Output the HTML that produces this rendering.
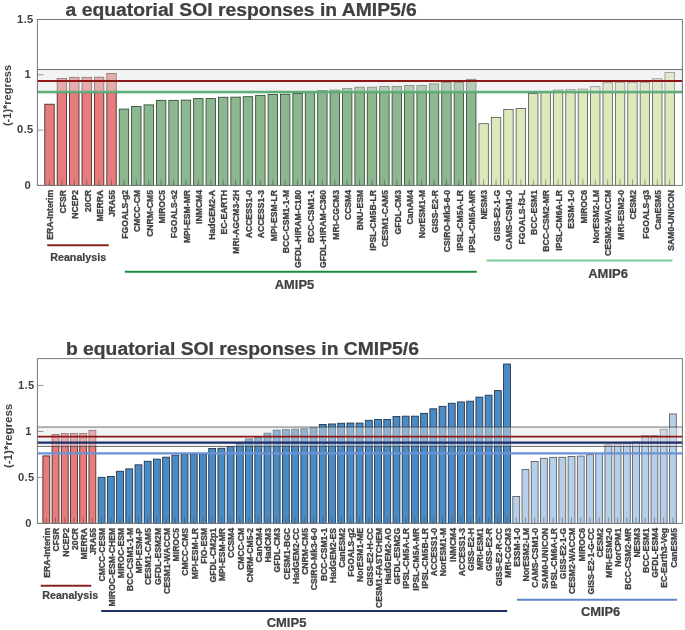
<!DOCTYPE html>
<html><head><meta charset="utf-8"><title>equatorial SOI responses</title>
<style>
html,body{margin:0;padding:0;background:#fff;}
body{width:685px;height:630px;overflow:hidden;font-family:"Liberation Sans",sans-serif;}
svg{display:block;will-change:transform;}
</style></head><body>
<svg width="685" height="630" viewBox="0 0 685 630">
<rect width="685" height="630" fill="#ffffff"/>
<rect x="44.79" y="104.22" width="9.42" height="81.18" fill="#E87C7C" stroke="#3f2626" stroke-width="0.85"/>
<rect x="57.20" y="78.56" width="9.42" height="106.84" fill="#E87C7C" stroke="#3f2626" stroke-width="0.85"/>
<rect x="69.60" y="77.34" width="9.42" height="108.06" fill="#E87C7C" stroke="#3f2626" stroke-width="0.85"/>
<rect x="82.00" y="77.34" width="9.42" height="108.06" fill="#E87C7C" stroke="#3f2626" stroke-width="0.85"/>
<rect x="94.41" y="77.23" width="9.42" height="108.17" fill="#E87C7C" stroke="#3f2626" stroke-width="0.85"/>
<rect x="106.81" y="73.47" width="9.42" height="111.93" fill="#E87C7C" stroke="#3f2626" stroke-width="0.85"/>
<rect x="119.22" y="109.09" width="9.42" height="76.31" fill="#8CB78F" stroke="#2f4a33" stroke-width="0.85"/>
<rect x="131.62" y="106.43" width="9.42" height="78.97" fill="#8CB78F" stroke="#2f4a33" stroke-width="0.85"/>
<rect x="144.02" y="104.88" width="9.42" height="80.52" fill="#8CB78F" stroke="#2f4a33" stroke-width="0.85"/>
<rect x="156.43" y="100.35" width="9.42" height="85.05" fill="#8CB78F" stroke="#2f4a33" stroke-width="0.85"/>
<rect x="168.83" y="100.35" width="9.42" height="85.05" fill="#8CB78F" stroke="#2f4a33" stroke-width="0.85"/>
<rect x="181.23" y="100.13" width="9.42" height="85.27" fill="#8CB78F" stroke="#2f4a33" stroke-width="0.85"/>
<rect x="193.64" y="98.58" width="9.42" height="86.82" fill="#8CB78F" stroke="#2f4a33" stroke-width="0.85"/>
<rect x="206.04" y="98.58" width="9.42" height="86.82" fill="#8CB78F" stroke="#2f4a33" stroke-width="0.85"/>
<rect x="218.45" y="97.25" width="9.42" height="88.15" fill="#8CB78F" stroke="#2f4a33" stroke-width="0.85"/>
<rect x="230.85" y="97.14" width="9.42" height="88.26" fill="#8CB78F" stroke="#2f4a33" stroke-width="0.85"/>
<rect x="243.25" y="96.70" width="9.42" height="88.70" fill="#8CB78F" stroke="#2f4a33" stroke-width="0.85"/>
<rect x="255.66" y="95.37" width="9.42" height="90.03" fill="#8CB78F" stroke="#2f4a33" stroke-width="0.85"/>
<rect x="268.06" y="94.49" width="9.42" height="90.91" fill="#8CB78F" stroke="#2f4a33" stroke-width="0.85"/>
<rect x="280.47" y="94.27" width="9.42" height="91.13" fill="#8CB78F" stroke="#2f4a33" stroke-width="0.85"/>
<rect x="292.87" y="93.49" width="9.42" height="91.91" fill="#8CB78F" stroke="#2f4a33" stroke-width="0.85"/>
<rect x="305.27" y="92.50" width="9.42" height="92.90" fill="#8CB78F" stroke="#2f4a33" stroke-width="0.85"/>
<rect x="317.68" y="90.51" width="9.42" height="94.89" fill="#8CB78F" stroke="#2f4a33" stroke-width="0.85"/>
<rect x="330.08" y="90.06" width="9.42" height="95.34" fill="#8CB78F" stroke="#2f4a33" stroke-width="0.85"/>
<rect x="342.48" y="88.62" width="9.42" height="96.78" fill="#8CB78F" stroke="#2f4a33" stroke-width="0.85"/>
<rect x="354.89" y="87.19" width="9.42" height="98.21" fill="#8CB78F" stroke="#2f4a33" stroke-width="0.85"/>
<rect x="367.29" y="87.19" width="9.42" height="98.21" fill="#8CB78F" stroke="#2f4a33" stroke-width="0.85"/>
<rect x="379.70" y="86.52" width="9.42" height="98.88" fill="#8CB78F" stroke="#2f4a33" stroke-width="0.85"/>
<rect x="392.10" y="86.52" width="9.42" height="98.88" fill="#8CB78F" stroke="#2f4a33" stroke-width="0.85"/>
<rect x="404.50" y="85.53" width="9.42" height="99.87" fill="#8CB78F" stroke="#2f4a33" stroke-width="0.85"/>
<rect x="416.91" y="85.53" width="9.42" height="99.87" fill="#8CB78F" stroke="#2f4a33" stroke-width="0.85"/>
<rect x="429.31" y="83.87" width="9.42" height="101.53" fill="#8CB78F" stroke="#2f4a33" stroke-width="0.85"/>
<rect x="441.72" y="82.54" width="9.42" height="102.86" fill="#8CB78F" stroke="#2f4a33" stroke-width="0.85"/>
<rect x="454.12" y="82.54" width="9.42" height="102.86" fill="#8CB78F" stroke="#2f4a33" stroke-width="0.85"/>
<rect x="466.52" y="79.33" width="9.42" height="106.07" fill="#8CB78F" stroke="#2f4a33" stroke-width="0.85"/>
<rect x="478.93" y="123.69" width="9.42" height="61.71" fill="#DCEABB" stroke="#5a5a5a" stroke-width="0.85"/>
<rect x="491.33" y="117.38" width="9.42" height="68.02" fill="#DCEABB" stroke="#5a5a5a" stroke-width="0.85"/>
<rect x="503.73" y="109.42" width="9.42" height="75.98" fill="#DCEABB" stroke="#5a5a5a" stroke-width="0.85"/>
<rect x="516.14" y="108.53" width="9.42" height="76.87" fill="#DCEABB" stroke="#5a5a5a" stroke-width="0.85"/>
<rect x="528.54" y="93.49" width="9.42" height="91.91" fill="#DCEABB" stroke="#5a5a5a" stroke-width="0.85"/>
<rect x="540.95" y="92.50" width="9.42" height="92.90" fill="#DCEABB" stroke="#5a5a5a" stroke-width="0.85"/>
<rect x="553.35" y="90.06" width="9.42" height="95.34" fill="#DCEABB" stroke="#5a5a5a" stroke-width="0.85"/>
<rect x="565.75" y="89.73" width="9.42" height="95.67" fill="#DCEABB" stroke="#5a5a5a" stroke-width="0.85"/>
<rect x="578.16" y="89.18" width="9.42" height="96.22" fill="#DCEABB" stroke="#5a5a5a" stroke-width="0.85"/>
<rect x="590.56" y="86.63" width="9.42" height="98.77" fill="#DCEABB" stroke="#5a5a5a" stroke-width="0.85"/>
<rect x="602.97" y="82.65" width="9.42" height="102.75" fill="#DCEABB" stroke="#5a5a5a" stroke-width="0.85"/>
<rect x="615.37" y="82.32" width="9.42" height="103.08" fill="#DCEABB" stroke="#5a5a5a" stroke-width="0.85"/>
<rect x="627.77" y="82.32" width="9.42" height="103.08" fill="#DCEABB" stroke="#5a5a5a" stroke-width="0.85"/>
<rect x="640.18" y="82.32" width="9.42" height="103.08" fill="#DCEABB" stroke="#5a5a5a" stroke-width="0.85"/>
<rect x="652.58" y="78.78" width="9.42" height="106.62" fill="#DCEABB" stroke="#5a5a5a" stroke-width="0.85"/>
<rect x="664.98" y="72.48" width="9.42" height="112.92" fill="#DCEABB" stroke="#5a5a5a" stroke-width="0.85"/>
<rect x="37.4" y="69.49" width="645.0" height="23.23" fill="#e4e4e4" fill-opacity="0.45" stroke="#3a3a3a" stroke-width="0.7"/>
<line x1="37.4" x2="682.4" y1="80.99" y2="80.99" stroke="#8B1717" stroke-width="2.0"/>
<line x1="37.4" x2="682.4" y1="91.94" y2="91.94" stroke="#5DAE79" stroke-width="2.4"/>
<rect x="37.4" y="19.5" width="645.0" height="165.9" fill="none" stroke="#7a7a7a" stroke-width="1"/>
<line x1="49.50" x2="49.50" y1="185.4" y2="179.4" stroke="#444" stroke-opacity="0.6" stroke-width="0.8"/>
<line x1="61.91" x2="61.91" y1="185.4" y2="179.4" stroke="#444" stroke-opacity="0.6" stroke-width="0.8"/>
<line x1="74.31" x2="74.31" y1="185.4" y2="179.4" stroke="#444" stroke-opacity="0.6" stroke-width="0.8"/>
<line x1="86.72" x2="86.72" y1="185.4" y2="179.4" stroke="#444" stroke-opacity="0.6" stroke-width="0.8"/>
<line x1="99.12" x2="99.12" y1="185.4" y2="179.4" stroke="#444" stroke-opacity="0.6" stroke-width="0.8"/>
<line x1="111.52" x2="111.52" y1="185.4" y2="179.4" stroke="#444" stroke-opacity="0.6" stroke-width="0.8"/>
<line x1="123.93" x2="123.93" y1="185.4" y2="179.4" stroke="#444" stroke-opacity="0.6" stroke-width="0.8"/>
<line x1="136.33" x2="136.33" y1="185.4" y2="179.4" stroke="#444" stroke-opacity="0.6" stroke-width="0.8"/>
<line x1="148.73" x2="148.73" y1="185.4" y2="179.4" stroke="#444" stroke-opacity="0.6" stroke-width="0.8"/>
<line x1="161.14" x2="161.14" y1="185.4" y2="179.4" stroke="#444" stroke-opacity="0.6" stroke-width="0.8"/>
<line x1="173.54" x2="173.54" y1="185.4" y2="179.4" stroke="#444" stroke-opacity="0.6" stroke-width="0.8"/>
<line x1="185.95" x2="185.95" y1="185.4" y2="179.4" stroke="#444" stroke-opacity="0.6" stroke-width="0.8"/>
<line x1="198.35" x2="198.35" y1="185.4" y2="179.4" stroke="#444" stroke-opacity="0.6" stroke-width="0.8"/>
<line x1="210.75" x2="210.75" y1="185.4" y2="179.4" stroke="#444" stroke-opacity="0.6" stroke-width="0.8"/>
<line x1="223.16" x2="223.16" y1="185.4" y2="179.4" stroke="#444" stroke-opacity="0.6" stroke-width="0.8"/>
<line x1="235.56" x2="235.56" y1="185.4" y2="179.4" stroke="#444" stroke-opacity="0.6" stroke-width="0.8"/>
<line x1="247.97" x2="247.97" y1="185.4" y2="179.4" stroke="#444" stroke-opacity="0.6" stroke-width="0.8"/>
<line x1="260.37" x2="260.37" y1="185.4" y2="179.4" stroke="#444" stroke-opacity="0.6" stroke-width="0.8"/>
<line x1="272.77" x2="272.77" y1="185.4" y2="179.4" stroke="#444" stroke-opacity="0.6" stroke-width="0.8"/>
<line x1="285.18" x2="285.18" y1="185.4" y2="179.4" stroke="#444" stroke-opacity="0.6" stroke-width="0.8"/>
<line x1="297.58" x2="297.58" y1="185.4" y2="179.4" stroke="#444" stroke-opacity="0.6" stroke-width="0.8"/>
<line x1="309.98" x2="309.98" y1="185.4" y2="179.4" stroke="#444" stroke-opacity="0.6" stroke-width="0.8"/>
<line x1="322.39" x2="322.39" y1="185.4" y2="179.4" stroke="#444" stroke-opacity="0.6" stroke-width="0.8"/>
<line x1="334.79" x2="334.79" y1="185.4" y2="179.4" stroke="#444" stroke-opacity="0.6" stroke-width="0.8"/>
<line x1="347.20" x2="347.20" y1="185.4" y2="179.4" stroke="#444" stroke-opacity="0.6" stroke-width="0.8"/>
<line x1="359.60" x2="359.60" y1="185.4" y2="179.4" stroke="#444" stroke-opacity="0.6" stroke-width="0.8"/>
<line x1="372.00" x2="372.00" y1="185.4" y2="179.4" stroke="#444" stroke-opacity="0.6" stroke-width="0.8"/>
<line x1="384.41" x2="384.41" y1="185.4" y2="179.4" stroke="#444" stroke-opacity="0.6" stroke-width="0.8"/>
<line x1="396.81" x2="396.81" y1="185.4" y2="179.4" stroke="#444" stroke-opacity="0.6" stroke-width="0.8"/>
<line x1="409.22" x2="409.22" y1="185.4" y2="179.4" stroke="#444" stroke-opacity="0.6" stroke-width="0.8"/>
<line x1="421.62" x2="421.62" y1="185.4" y2="179.4" stroke="#444" stroke-opacity="0.6" stroke-width="0.8"/>
<line x1="434.02" x2="434.02" y1="185.4" y2="179.4" stroke="#444" stroke-opacity="0.6" stroke-width="0.8"/>
<line x1="446.43" x2="446.43" y1="185.4" y2="179.4" stroke="#444" stroke-opacity="0.6" stroke-width="0.8"/>
<line x1="458.83" x2="458.83" y1="185.4" y2="179.4" stroke="#444" stroke-opacity="0.6" stroke-width="0.8"/>
<line x1="471.23" x2="471.23" y1="185.4" y2="179.4" stroke="#444" stroke-opacity="0.6" stroke-width="0.8"/>
<line x1="483.64" x2="483.64" y1="185.4" y2="179.4" stroke="#444" stroke-opacity="0.6" stroke-width="0.8"/>
<line x1="496.04" x2="496.04" y1="185.4" y2="179.4" stroke="#444" stroke-opacity="0.6" stroke-width="0.8"/>
<line x1="508.45" x2="508.45" y1="185.4" y2="179.4" stroke="#444" stroke-opacity="0.6" stroke-width="0.8"/>
<line x1="520.85" x2="520.85" y1="185.4" y2="179.4" stroke="#444" stroke-opacity="0.6" stroke-width="0.8"/>
<line x1="533.25" x2="533.25" y1="185.4" y2="179.4" stroke="#444" stroke-opacity="0.6" stroke-width="0.8"/>
<line x1="545.66" x2="545.66" y1="185.4" y2="179.4" stroke="#444" stroke-opacity="0.6" stroke-width="0.8"/>
<line x1="558.06" x2="558.06" y1="185.4" y2="179.4" stroke="#444" stroke-opacity="0.6" stroke-width="0.8"/>
<line x1="570.47" x2="570.47" y1="185.4" y2="179.4" stroke="#444" stroke-opacity="0.6" stroke-width="0.8"/>
<line x1="582.87" x2="582.87" y1="185.4" y2="179.4" stroke="#444" stroke-opacity="0.6" stroke-width="0.8"/>
<line x1="595.27" x2="595.27" y1="185.4" y2="179.4" stroke="#444" stroke-opacity="0.6" stroke-width="0.8"/>
<line x1="607.68" x2="607.68" y1="185.4" y2="179.4" stroke="#444" stroke-opacity="0.6" stroke-width="0.8"/>
<line x1="620.08" x2="620.08" y1="185.4" y2="179.4" stroke="#444" stroke-opacity="0.6" stroke-width="0.8"/>
<line x1="632.48" x2="632.48" y1="185.4" y2="179.4" stroke="#444" stroke-opacity="0.6" stroke-width="0.8"/>
<line x1="644.89" x2="644.89" y1="185.4" y2="179.4" stroke="#444" stroke-opacity="0.6" stroke-width="0.8"/>
<line x1="657.29" x2="657.29" y1="185.4" y2="179.4" stroke="#444" stroke-opacity="0.6" stroke-width="0.8"/>
<line x1="669.70" x2="669.70" y1="185.4" y2="179.4" stroke="#444" stroke-opacity="0.6" stroke-width="0.8"/>
<line x1="37.4" x2="43.4" y1="185.40" y2="185.40" stroke="#7a7a7a" stroke-width="0.8"/>
<text x="31.0" y="188.60" text-anchor="end" font-size="11.2" letter-spacing="0.35" font-weight="bold" fill="#404040" font-family="Liberation Sans, sans-serif">0</text>
<line x1="37.4" x2="43.4" y1="130.10" y2="130.10" stroke="#7a7a7a" stroke-width="0.8"/>
<text x="33.7" y="133.30" text-anchor="end" font-size="11.2" letter-spacing="0.35" font-weight="bold" fill="#404040" font-family="Liberation Sans, sans-serif">0.5</text>
<line x1="37.4" x2="43.4" y1="74.80" y2="74.80" stroke="#7a7a7a" stroke-width="0.8"/>
<text x="31.0" y="78.00" text-anchor="end" font-size="11.2" letter-spacing="0.35" font-weight="bold" fill="#404040" font-family="Liberation Sans, sans-serif">1</text>
<line x1="37.4" x2="43.4" y1="19.50" y2="19.50" stroke="#7a7a7a" stroke-width="0.8"/>
<text x="33.7" y="22.70" text-anchor="end" font-size="11.2" letter-spacing="0.35" font-weight="bold" fill="#404040" font-family="Liberation Sans, sans-serif">1.5</text>
<text transform="translate(53.30,189.90) rotate(-90)" text-anchor="end" font-size="8.65" font-weight="bold" fill="#404040" stroke="#404040" stroke-width="0.3" font-family="Liberation Sans, sans-serif">ERA-Interim</text>
<text transform="translate(65.71,189.90) rotate(-90)" text-anchor="end" font-size="8.65" font-weight="bold" fill="#404040" stroke="#404040" stroke-width="0.3" font-family="Liberation Sans, sans-serif">CFSR</text>
<text transform="translate(78.11,189.90) rotate(-90)" text-anchor="end" font-size="8.65" font-weight="bold" fill="#404040" stroke="#404040" stroke-width="0.3" font-family="Liberation Sans, sans-serif">NCEP2</text>
<text transform="translate(90.52,189.90) rotate(-90)" text-anchor="end" font-size="8.65" font-weight="bold" fill="#404040" stroke="#404040" stroke-width="0.3" font-family="Liberation Sans, sans-serif">20CR</text>
<text transform="translate(102.92,189.90) rotate(-90)" text-anchor="end" font-size="8.65" font-weight="bold" fill="#404040" stroke="#404040" stroke-width="0.3" font-family="Liberation Sans, sans-serif">MERRA</text>
<text transform="translate(115.32,189.90) rotate(-90)" text-anchor="end" font-size="8.65" font-weight="bold" fill="#404040" stroke="#404040" stroke-width="0.3" font-family="Liberation Sans, sans-serif">JRA55</text>
<text transform="translate(127.73,189.90) rotate(-90)" text-anchor="end" font-size="8.65" font-weight="bold" fill="#404040" stroke="#404040" stroke-width="0.3" font-family="Liberation Sans, sans-serif">FGOALS-g2</text>
<text transform="translate(140.13,189.90) rotate(-90)" text-anchor="end" font-size="8.65" font-weight="bold" fill="#404040" stroke="#404040" stroke-width="0.3" font-family="Liberation Sans, sans-serif">CMCC-CM</text>
<text transform="translate(152.53,189.90) rotate(-90)" text-anchor="end" font-size="8.65" font-weight="bold" fill="#404040" stroke="#404040" stroke-width="0.3" font-family="Liberation Sans, sans-serif">CNRM-CM5</text>
<text transform="translate(164.94,189.90) rotate(-90)" text-anchor="end" font-size="8.65" font-weight="bold" fill="#404040" stroke="#404040" stroke-width="0.3" font-family="Liberation Sans, sans-serif">MIROC5</text>
<text transform="translate(177.34,189.90) rotate(-90)" text-anchor="end" font-size="8.65" font-weight="bold" fill="#404040" stroke="#404040" stroke-width="0.3" font-family="Liberation Sans, sans-serif">FGOALS-s2</text>
<text transform="translate(189.75,189.90) rotate(-90)" text-anchor="end" font-size="8.65" font-weight="bold" fill="#404040" stroke="#404040" stroke-width="0.3" font-family="Liberation Sans, sans-serif">MPI-ESM-MR</text>
<text transform="translate(202.15,189.90) rotate(-90)" text-anchor="end" font-size="8.65" font-weight="bold" fill="#404040" stroke="#404040" stroke-width="0.3" font-family="Liberation Sans, sans-serif">INMCM4</text>
<text transform="translate(214.55,189.90) rotate(-90)" text-anchor="end" font-size="8.65" font-weight="bold" fill="#404040" stroke="#404040" stroke-width="0.3" font-family="Liberation Sans, sans-serif">HadGEM2-A</text>
<text transform="translate(226.96,189.90) rotate(-90)" text-anchor="end" font-size="8.65" font-weight="bold" fill="#404040" stroke="#404040" stroke-width="0.3" font-family="Liberation Sans, sans-serif">EC-EARTH</text>
<text transform="translate(239.36,189.90) rotate(-90)" text-anchor="end" font-size="8.65" font-weight="bold" fill="#404040" stroke="#404040" stroke-width="0.3" font-family="Liberation Sans, sans-serif">MRI-AGCM3-2H</text>
<text transform="translate(251.77,189.90) rotate(-90)" text-anchor="end" font-size="8.65" font-weight="bold" fill="#404040" stroke="#404040" stroke-width="0.3" font-family="Liberation Sans, sans-serif">ACCESS1-0</text>
<text transform="translate(264.17,189.90) rotate(-90)" text-anchor="end" font-size="8.65" font-weight="bold" fill="#404040" stroke="#404040" stroke-width="0.3" font-family="Liberation Sans, sans-serif">ACCESS1-3</text>
<text transform="translate(276.57,189.90) rotate(-90)" text-anchor="end" font-size="8.65" font-weight="bold" fill="#404040" stroke="#404040" stroke-width="0.3" font-family="Liberation Sans, sans-serif">MPI-ESM-LR</text>
<text transform="translate(288.98,189.90) rotate(-90)" text-anchor="end" font-size="8.65" font-weight="bold" fill="#404040" stroke="#404040" stroke-width="0.3" font-family="Liberation Sans, sans-serif">BCC-CSM1-1-M</text>
<text transform="translate(301.38,189.90) rotate(-90)" text-anchor="end" font-size="8.65" font-weight="bold" fill="#404040" stroke="#404040" stroke-width="0.3" font-family="Liberation Sans, sans-serif">GFDL-HIRAM-C180</text>
<text transform="translate(313.78,189.90) rotate(-90)" text-anchor="end" font-size="8.65" font-weight="bold" fill="#404040" stroke="#404040" stroke-width="0.3" font-family="Liberation Sans, sans-serif">BCC-CSM1-1</text>
<text transform="translate(326.19,189.90) rotate(-90)" text-anchor="end" font-size="8.65" font-weight="bold" fill="#404040" stroke="#404040" stroke-width="0.3" font-family="Liberation Sans, sans-serif">GFDL-HIRAM-C360</text>
<text transform="translate(338.59,189.90) rotate(-90)" text-anchor="end" font-size="8.65" font-weight="bold" fill="#404040" stroke="#404040" stroke-width="0.3" font-family="Liberation Sans, sans-serif">MRI-CGCM3</text>
<text transform="translate(351.00,189.90) rotate(-90)" text-anchor="end" font-size="8.65" font-weight="bold" fill="#404040" stroke="#404040" stroke-width="0.3" font-family="Liberation Sans, sans-serif">CCSM4</text>
<text transform="translate(363.40,189.90) rotate(-90)" text-anchor="end" font-size="8.65" font-weight="bold" fill="#404040" stroke="#404040" stroke-width="0.3" font-family="Liberation Sans, sans-serif">BNU-ESM</text>
<text transform="translate(375.80,189.90) rotate(-90)" text-anchor="end" font-size="8.65" font-weight="bold" fill="#404040" stroke="#404040" stroke-width="0.3" font-family="Liberation Sans, sans-serif">IPSL-CM5B-LR</text>
<text transform="translate(388.21,189.90) rotate(-90)" text-anchor="end" font-size="8.65" font-weight="bold" fill="#404040" stroke="#404040" stroke-width="0.3" font-family="Liberation Sans, sans-serif">CESM1-CAM5</text>
<text transform="translate(400.61,189.90) rotate(-90)" text-anchor="end" font-size="8.65" font-weight="bold" fill="#404040" stroke="#404040" stroke-width="0.3" font-family="Liberation Sans, sans-serif">GFDL-CM3</text>
<text transform="translate(413.02,189.90) rotate(-90)" text-anchor="end" font-size="8.65" font-weight="bold" fill="#404040" stroke="#404040" stroke-width="0.3" font-family="Liberation Sans, sans-serif">CanAM4</text>
<text transform="translate(425.42,189.90) rotate(-90)" text-anchor="end" font-size="8.65" font-weight="bold" fill="#404040" stroke="#404040" stroke-width="0.3" font-family="Liberation Sans, sans-serif">NorESM1-M</text>
<text transform="translate(437.82,189.90) rotate(-90)" text-anchor="end" font-size="8.65" font-weight="bold" fill="#404040" stroke="#404040" stroke-width="0.3" font-family="Liberation Sans, sans-serif">GISS-E2-R</text>
<text transform="translate(450.23,189.90) rotate(-90)" text-anchor="end" font-size="8.65" font-weight="bold" fill="#404040" stroke="#404040" stroke-width="0.3" font-family="Liberation Sans, sans-serif">CSIRO-Mk3-6-0</text>
<text transform="translate(462.63,189.90) rotate(-90)" text-anchor="end" font-size="8.65" font-weight="bold" fill="#404040" stroke="#404040" stroke-width="0.3" font-family="Liberation Sans, sans-serif">IPSL-CM5A-LR</text>
<text transform="translate(475.03,189.90) rotate(-90)" text-anchor="end" font-size="8.65" font-weight="bold" fill="#404040" stroke="#404040" stroke-width="0.3" font-family="Liberation Sans, sans-serif">IPSL-CM5A-MR</text>
<text transform="translate(487.44,189.90) rotate(-90)" text-anchor="end" font-size="8.65" font-weight="bold" fill="#404040" stroke="#404040" stroke-width="0.3" font-family="Liberation Sans, sans-serif">NESM3</text>
<text transform="translate(499.84,189.90) rotate(-90)" text-anchor="end" font-size="8.65" font-weight="bold" fill="#404040" stroke="#404040" stroke-width="0.3" font-family="Liberation Sans, sans-serif">GISS-E2-1-G</text>
<text transform="translate(512.25,189.90) rotate(-90)" text-anchor="end" font-size="8.65" font-weight="bold" fill="#404040" stroke="#404040" stroke-width="0.3" font-family="Liberation Sans, sans-serif">CAMS-CSM1-0</text>
<text transform="translate(524.65,189.90) rotate(-90)" text-anchor="end" font-size="8.65" font-weight="bold" fill="#404040" stroke="#404040" stroke-width="0.3" font-family="Liberation Sans, sans-serif">FGOALS-f3-L</text>
<text transform="translate(537.05,189.90) rotate(-90)" text-anchor="end" font-size="8.65" font-weight="bold" fill="#404040" stroke="#404040" stroke-width="0.3" font-family="Liberation Sans, sans-serif">BCC-ESM1</text>
<text transform="translate(549.46,189.90) rotate(-90)" text-anchor="end" font-size="8.65" font-weight="bold" fill="#404040" stroke="#404040" stroke-width="0.3" font-family="Liberation Sans, sans-serif">BCC-CSM2-MR</text>
<text transform="translate(561.86,189.90) rotate(-90)" text-anchor="end" font-size="8.65" font-weight="bold" fill="#404040" stroke="#404040" stroke-width="0.3" font-family="Liberation Sans, sans-serif">IPSL-CM6A-LR</text>
<text transform="translate(574.27,189.90) rotate(-90)" text-anchor="end" font-size="8.65" font-weight="bold" fill="#404040" stroke="#404040" stroke-width="0.3" font-family="Liberation Sans, sans-serif">E3SM-1-0</text>
<text transform="translate(586.67,189.90) rotate(-90)" text-anchor="end" font-size="8.65" font-weight="bold" fill="#404040" stroke="#404040" stroke-width="0.3" font-family="Liberation Sans, sans-serif">MIROC6</text>
<text transform="translate(599.07,189.90) rotate(-90)" text-anchor="end" font-size="8.65" font-weight="bold" fill="#404040" stroke="#404040" stroke-width="0.3" font-family="Liberation Sans, sans-serif">NorESM2-LM</text>
<text transform="translate(611.48,189.90) rotate(-90)" text-anchor="end" font-size="8.65" font-weight="bold" fill="#404040" stroke="#404040" stroke-width="0.3" font-family="Liberation Sans, sans-serif">CESM2-WACCM</text>
<text transform="translate(623.88,189.90) rotate(-90)" text-anchor="end" font-size="8.65" font-weight="bold" fill="#404040" stroke="#404040" stroke-width="0.3" font-family="Liberation Sans, sans-serif">MRI-ESM2-0</text>
<text transform="translate(636.28,189.90) rotate(-90)" text-anchor="end" font-size="8.65" font-weight="bold" fill="#404040" stroke="#404040" stroke-width="0.3" font-family="Liberation Sans, sans-serif">CESM2</text>
<text transform="translate(648.69,189.90) rotate(-90)" text-anchor="end" font-size="8.65" font-weight="bold" fill="#404040" stroke="#404040" stroke-width="0.3" font-family="Liberation Sans, sans-serif">FGOALS-g3</text>
<text transform="translate(661.09,189.90) rotate(-90)" text-anchor="end" font-size="8.65" font-weight="bold" fill="#404040" stroke="#404040" stroke-width="0.3" font-family="Liberation Sans, sans-serif">CanESM5</text>
<text transform="translate(673.50,189.90) rotate(-90)" text-anchor="end" font-size="8.65" font-weight="bold" fill="#404040" stroke="#404040" stroke-width="0.3" font-family="Liberation Sans, sans-serif">SAM0-UNICON</text>
<rect x="42.88" y="455.90" width="6.87" height="67.50" fill="#E87C7C" stroke="#3f2626" stroke-width="0.85"/>
<rect x="52.09" y="434.56" width="6.87" height="88.84" fill="#E87C7C" stroke="#3f2626" stroke-width="0.85"/>
<rect x="61.31" y="433.55" width="6.87" height="89.85" fill="#E87C7C" stroke="#3f2626" stroke-width="0.85"/>
<rect x="70.52" y="433.55" width="6.87" height="89.85" fill="#E87C7C" stroke="#3f2626" stroke-width="0.85"/>
<rect x="79.74" y="433.46" width="6.87" height="89.94" fill="#E87C7C" stroke="#3f2626" stroke-width="0.85"/>
<rect x="88.95" y="430.33" width="6.87" height="93.07" fill="#E87C7C" stroke="#3f2626" stroke-width="0.85"/>
<rect x="98.16" y="477.33" width="6.87" height="46.07" fill="#4A8BC4" stroke="#1d2f4a" stroke-width="0.85"/>
<rect x="107.38" y="476.41" width="6.87" height="46.99" fill="#4A8BC4" stroke="#1d2f4a" stroke-width="0.85"/>
<rect x="116.59" y="471.26" width="6.87" height="52.14" fill="#4A8BC4" stroke="#1d2f4a" stroke-width="0.85"/>
<rect x="125.81" y="468.87" width="6.87" height="54.53" fill="#4A8BC4" stroke="#1d2f4a" stroke-width="0.85"/>
<rect x="135.02" y="464.82" width="6.87" height="58.58" fill="#4A8BC4" stroke="#1d2f4a" stroke-width="0.85"/>
<rect x="144.24" y="461.23" width="6.87" height="62.17" fill="#4A8BC4" stroke="#1d2f4a" stroke-width="0.85"/>
<rect x="153.45" y="459.12" width="6.87" height="64.28" fill="#4A8BC4" stroke="#1d2f4a" stroke-width="0.85"/>
<rect x="162.66" y="457.19" width="6.87" height="66.21" fill="#4A8BC4" stroke="#1d2f4a" stroke-width="0.85"/>
<rect x="171.88" y="455.07" width="6.87" height="68.33" fill="#4A8BC4" stroke="#1d2f4a" stroke-width="0.85"/>
<rect x="181.09" y="454.15" width="6.87" height="69.25" fill="#4A8BC4" stroke="#1d2f4a" stroke-width="0.85"/>
<rect x="190.31" y="454.15" width="6.87" height="69.25" fill="#4A8BC4" stroke="#1d2f4a" stroke-width="0.85"/>
<rect x="199.52" y="454.15" width="6.87" height="69.25" fill="#4A8BC4" stroke="#1d2f4a" stroke-width="0.85"/>
<rect x="208.74" y="448.45" width="6.87" height="74.95" fill="#4A8BC4" stroke="#1d2f4a" stroke-width="0.85"/>
<rect x="217.95" y="448.27" width="6.87" height="75.13" fill="#4A8BC4" stroke="#1d2f4a" stroke-width="0.85"/>
<rect x="227.16" y="446.61" width="6.87" height="76.79" fill="#4A8BC4" stroke="#1d2f4a" stroke-width="0.85"/>
<rect x="236.38" y="443.67" width="6.87" height="79.73" fill="#4A8BC4" stroke="#1d2f4a" stroke-width="0.85"/>
<rect x="245.59" y="438.88" width="6.87" height="84.52" fill="#4A8BC4" stroke="#1d2f4a" stroke-width="0.85"/>
<rect x="254.81" y="437.41" width="6.87" height="85.99" fill="#4A8BC4" stroke="#1d2f4a" stroke-width="0.85"/>
<rect x="264.02" y="433.18" width="6.87" height="90.22" fill="#4A8BC4" stroke="#1d2f4a" stroke-width="0.85"/>
<rect x="273.24" y="430.15" width="6.87" height="93.25" fill="#4A8BC4" stroke="#1d2f4a" stroke-width="0.85"/>
<rect x="282.45" y="429.69" width="6.87" height="93.71" fill="#4A8BC4" stroke="#1d2f4a" stroke-width="0.85"/>
<rect x="291.66" y="429.14" width="6.87" height="94.26" fill="#4A8BC4" stroke="#1d2f4a" stroke-width="0.85"/>
<rect x="300.88" y="428.77" width="6.87" height="94.63" fill="#4A8BC4" stroke="#1d2f4a" stroke-width="0.85"/>
<rect x="310.09" y="427.67" width="6.87" height="95.73" fill="#4A8BC4" stroke="#1d2f4a" stroke-width="0.85"/>
<rect x="319.31" y="424.45" width="6.87" height="98.95" fill="#4A8BC4" stroke="#1d2f4a" stroke-width="0.85"/>
<rect x="328.52" y="423.99" width="6.87" height="99.41" fill="#4A8BC4" stroke="#1d2f4a" stroke-width="0.85"/>
<rect x="337.74" y="423.25" width="6.87" height="100.15" fill="#4A8BC4" stroke="#1d2f4a" stroke-width="0.85"/>
<rect x="346.95" y="423.07" width="6.87" height="100.33" fill="#4A8BC4" stroke="#1d2f4a" stroke-width="0.85"/>
<rect x="356.16" y="423.07" width="6.87" height="100.33" fill="#4A8BC4" stroke="#1d2f4a" stroke-width="0.85"/>
<rect x="365.38" y="420.31" width="6.87" height="103.09" fill="#4A8BC4" stroke="#1d2f4a" stroke-width="0.85"/>
<rect x="374.59" y="419.57" width="6.87" height="103.83" fill="#4A8BC4" stroke="#1d2f4a" stroke-width="0.85"/>
<rect x="383.81" y="419.39" width="6.87" height="104.01" fill="#4A8BC4" stroke="#1d2f4a" stroke-width="0.85"/>
<rect x="393.02" y="416.54" width="6.87" height="106.86" fill="#4A8BC4" stroke="#1d2f4a" stroke-width="0.85"/>
<rect x="402.24" y="416.17" width="6.87" height="107.23" fill="#4A8BC4" stroke="#1d2f4a" stroke-width="0.85"/>
<rect x="411.45" y="416.17" width="6.87" height="107.23" fill="#4A8BC4" stroke="#1d2f4a" stroke-width="0.85"/>
<rect x="420.66" y="413.32" width="6.87" height="110.08" fill="#4A8BC4" stroke="#1d2f4a" stroke-width="0.85"/>
<rect x="429.88" y="408.81" width="6.87" height="114.59" fill="#4A8BC4" stroke="#1d2f4a" stroke-width="0.85"/>
<rect x="439.09" y="406.33" width="6.87" height="117.07" fill="#4A8BC4" stroke="#1d2f4a" stroke-width="0.85"/>
<rect x="448.31" y="403.29" width="6.87" height="120.11" fill="#4A8BC4" stroke="#1d2f4a" stroke-width="0.85"/>
<rect x="457.52" y="401.92" width="6.87" height="121.48" fill="#4A8BC4" stroke="#1d2f4a" stroke-width="0.85"/>
<rect x="466.74" y="401.18" width="6.87" height="122.22" fill="#4A8BC4" stroke="#1d2f4a" stroke-width="0.85"/>
<rect x="475.95" y="397.13" width="6.87" height="126.27" fill="#4A8BC4" stroke="#1d2f4a" stroke-width="0.85"/>
<rect x="485.16" y="395.20" width="6.87" height="128.20" fill="#4A8BC4" stroke="#1d2f4a" stroke-width="0.85"/>
<rect x="494.38" y="390.60" width="6.87" height="132.80" fill="#4A8BC4" stroke="#1d2f4a" stroke-width="0.85"/>
<rect x="503.59" y="364.03" width="6.87" height="159.37" fill="#4A8BC4" stroke="#1d2f4a" stroke-width="0.85"/>
<rect x="512.81" y="496.55" width="6.87" height="26.85" fill="#B6D0EB" stroke="#5a5a5a" stroke-width="0.85"/>
<rect x="522.02" y="469.42" width="6.87" height="53.98" fill="#B6D0EB" stroke="#5a5a5a" stroke-width="0.85"/>
<rect x="531.24" y="461.51" width="6.87" height="61.89" fill="#B6D0EB" stroke="#5a5a5a" stroke-width="0.85"/>
<rect x="540.45" y="458.29" width="6.87" height="65.11" fill="#B6D0EB" stroke="#5a5a5a" stroke-width="0.85"/>
<rect x="549.66" y="457.37" width="6.87" height="66.03" fill="#B6D0EB" stroke="#5a5a5a" stroke-width="0.85"/>
<rect x="558.88" y="457.28" width="6.87" height="66.12" fill="#B6D0EB" stroke="#5a5a5a" stroke-width="0.85"/>
<rect x="568.09" y="456.54" width="6.87" height="66.86" fill="#B6D0EB" stroke="#5a5a5a" stroke-width="0.85"/>
<rect x="577.31" y="456.08" width="6.87" height="67.32" fill="#B6D0EB" stroke="#5a5a5a" stroke-width="0.85"/>
<rect x="586.52" y="454.70" width="6.87" height="68.70" fill="#B6D0EB" stroke="#5a5a5a" stroke-width="0.85"/>
<rect x="595.74" y="453.51" width="6.87" height="69.89" fill="#B6D0EB" stroke="#5a5a5a" stroke-width="0.85"/>
<rect x="604.95" y="444.86" width="6.87" height="78.54" fill="#B6D0EB" stroke="#5a5a5a" stroke-width="0.85"/>
<rect x="614.16" y="443.76" width="6.87" height="79.64" fill="#B6D0EB" stroke="#5a5a5a" stroke-width="0.85"/>
<rect x="623.38" y="443.48" width="6.87" height="79.92" fill="#B6D0EB" stroke="#5a5a5a" stroke-width="0.85"/>
<rect x="632.59" y="441.83" width="6.87" height="81.57" fill="#B6D0EB" stroke="#5a5a5a" stroke-width="0.85"/>
<rect x="641.81" y="435.48" width="6.87" height="87.92" fill="#B6D0EB" stroke="#5a5a5a" stroke-width="0.85"/>
<rect x="651.02" y="435.48" width="6.87" height="87.92" fill="#B6D0EB" stroke="#5a5a5a" stroke-width="0.85"/>
<rect x="660.24" y="429.32" width="6.87" height="94.08" fill="#B6D0EB" stroke="#5a5a5a" stroke-width="0.85"/>
<rect x="669.45" y="413.96" width="6.87" height="109.44" fill="#B6D0EB" stroke="#5a5a5a" stroke-width="0.85"/>
<rect x="37.4" y="427.02" width="645.0" height="19.31" fill="#e4e4e4" fill-opacity="0.45" stroke="#3a3a3a" stroke-width="0.7"/>
<line x1="37.4" x2="682.4" y1="436.59" y2="436.59" stroke="#8B1717" stroke-width="1.9"/>
<line x1="37.4" x2="682.4" y1="442.66" y2="442.66" stroke="#1F2F6B" stroke-width="2.1"/>
<line x1="37.4" x2="682.4" y1="453.32" y2="453.32" stroke="#6B93D6" stroke-width="2.3"/>
<rect x="37.4" y="358.6" width="645.0" height="164.79999999999995" fill="none" stroke="#7a7a7a" stroke-width="1"/>
<line x1="46.31" x2="46.31" y1="523.4" y2="517.4" stroke="#444" stroke-opacity="0.6" stroke-width="0.8"/>
<line x1="55.53" x2="55.53" y1="523.4" y2="517.4" stroke="#444" stroke-opacity="0.6" stroke-width="0.8"/>
<line x1="64.74" x2="64.74" y1="523.4" y2="517.4" stroke="#444" stroke-opacity="0.6" stroke-width="0.8"/>
<line x1="73.96" x2="73.96" y1="523.4" y2="517.4" stroke="#444" stroke-opacity="0.6" stroke-width="0.8"/>
<line x1="83.17" x2="83.17" y1="523.4" y2="517.4" stroke="#444" stroke-opacity="0.6" stroke-width="0.8"/>
<line x1="92.39" x2="92.39" y1="523.4" y2="517.4" stroke="#444" stroke-opacity="0.6" stroke-width="0.8"/>
<line x1="101.60" x2="101.60" y1="523.4" y2="517.4" stroke="#444" stroke-opacity="0.6" stroke-width="0.8"/>
<line x1="110.81" x2="110.81" y1="523.4" y2="517.4" stroke="#444" stroke-opacity="0.6" stroke-width="0.8"/>
<line x1="120.03" x2="120.03" y1="523.4" y2="517.4" stroke="#444" stroke-opacity="0.6" stroke-width="0.8"/>
<line x1="129.24" x2="129.24" y1="523.4" y2="517.4" stroke="#444" stroke-opacity="0.6" stroke-width="0.8"/>
<line x1="138.46" x2="138.46" y1="523.4" y2="517.4" stroke="#444" stroke-opacity="0.6" stroke-width="0.8"/>
<line x1="147.67" x2="147.67" y1="523.4" y2="517.4" stroke="#444" stroke-opacity="0.6" stroke-width="0.8"/>
<line x1="156.89" x2="156.89" y1="523.4" y2="517.4" stroke="#444" stroke-opacity="0.6" stroke-width="0.8"/>
<line x1="166.10" x2="166.10" y1="523.4" y2="517.4" stroke="#444" stroke-opacity="0.6" stroke-width="0.8"/>
<line x1="175.31" x2="175.31" y1="523.4" y2="517.4" stroke="#444" stroke-opacity="0.6" stroke-width="0.8"/>
<line x1="184.53" x2="184.53" y1="523.4" y2="517.4" stroke="#444" stroke-opacity="0.6" stroke-width="0.8"/>
<line x1="193.74" x2="193.74" y1="523.4" y2="517.4" stroke="#444" stroke-opacity="0.6" stroke-width="0.8"/>
<line x1="202.96" x2="202.96" y1="523.4" y2="517.4" stroke="#444" stroke-opacity="0.6" stroke-width="0.8"/>
<line x1="212.17" x2="212.17" y1="523.4" y2="517.4" stroke="#444" stroke-opacity="0.6" stroke-width="0.8"/>
<line x1="221.39" x2="221.39" y1="523.4" y2="517.4" stroke="#444" stroke-opacity="0.6" stroke-width="0.8"/>
<line x1="230.60" x2="230.60" y1="523.4" y2="517.4" stroke="#444" stroke-opacity="0.6" stroke-width="0.8"/>
<line x1="239.81" x2="239.81" y1="523.4" y2="517.4" stroke="#444" stroke-opacity="0.6" stroke-width="0.8"/>
<line x1="249.03" x2="249.03" y1="523.4" y2="517.4" stroke="#444" stroke-opacity="0.6" stroke-width="0.8"/>
<line x1="258.24" x2="258.24" y1="523.4" y2="517.4" stroke="#444" stroke-opacity="0.6" stroke-width="0.8"/>
<line x1="267.46" x2="267.46" y1="523.4" y2="517.4" stroke="#444" stroke-opacity="0.6" stroke-width="0.8"/>
<line x1="276.67" x2="276.67" y1="523.4" y2="517.4" stroke="#444" stroke-opacity="0.6" stroke-width="0.8"/>
<line x1="285.89" x2="285.89" y1="523.4" y2="517.4" stroke="#444" stroke-opacity="0.6" stroke-width="0.8"/>
<line x1="295.10" x2="295.10" y1="523.4" y2="517.4" stroke="#444" stroke-opacity="0.6" stroke-width="0.8"/>
<line x1="304.31" x2="304.31" y1="523.4" y2="517.4" stroke="#444" stroke-opacity="0.6" stroke-width="0.8"/>
<line x1="313.53" x2="313.53" y1="523.4" y2="517.4" stroke="#444" stroke-opacity="0.6" stroke-width="0.8"/>
<line x1="322.74" x2="322.74" y1="523.4" y2="517.4" stroke="#444" stroke-opacity="0.6" stroke-width="0.8"/>
<line x1="331.96" x2="331.96" y1="523.4" y2="517.4" stroke="#444" stroke-opacity="0.6" stroke-width="0.8"/>
<line x1="341.17" x2="341.17" y1="523.4" y2="517.4" stroke="#444" stroke-opacity="0.6" stroke-width="0.8"/>
<line x1="350.39" x2="350.39" y1="523.4" y2="517.4" stroke="#444" stroke-opacity="0.6" stroke-width="0.8"/>
<line x1="359.60" x2="359.60" y1="523.4" y2="517.4" stroke="#444" stroke-opacity="0.6" stroke-width="0.8"/>
<line x1="368.81" x2="368.81" y1="523.4" y2="517.4" stroke="#444" stroke-opacity="0.6" stroke-width="0.8"/>
<line x1="378.03" x2="378.03" y1="523.4" y2="517.4" stroke="#444" stroke-opacity="0.6" stroke-width="0.8"/>
<line x1="387.24" x2="387.24" y1="523.4" y2="517.4" stroke="#444" stroke-opacity="0.6" stroke-width="0.8"/>
<line x1="396.46" x2="396.46" y1="523.4" y2="517.4" stroke="#444" stroke-opacity="0.6" stroke-width="0.8"/>
<line x1="405.67" x2="405.67" y1="523.4" y2="517.4" stroke="#444" stroke-opacity="0.6" stroke-width="0.8"/>
<line x1="414.89" x2="414.89" y1="523.4" y2="517.4" stroke="#444" stroke-opacity="0.6" stroke-width="0.8"/>
<line x1="424.10" x2="424.10" y1="523.4" y2="517.4" stroke="#444" stroke-opacity="0.6" stroke-width="0.8"/>
<line x1="433.31" x2="433.31" y1="523.4" y2="517.4" stroke="#444" stroke-opacity="0.6" stroke-width="0.8"/>
<line x1="442.53" x2="442.53" y1="523.4" y2="517.4" stroke="#444" stroke-opacity="0.6" stroke-width="0.8"/>
<line x1="451.74" x2="451.74" y1="523.4" y2="517.4" stroke="#444" stroke-opacity="0.6" stroke-width="0.8"/>
<line x1="460.96" x2="460.96" y1="523.4" y2="517.4" stroke="#444" stroke-opacity="0.6" stroke-width="0.8"/>
<line x1="470.17" x2="470.17" y1="523.4" y2="517.4" stroke="#444" stroke-opacity="0.6" stroke-width="0.8"/>
<line x1="479.39" x2="479.39" y1="523.4" y2="517.4" stroke="#444" stroke-opacity="0.6" stroke-width="0.8"/>
<line x1="488.60" x2="488.60" y1="523.4" y2="517.4" stroke="#444" stroke-opacity="0.6" stroke-width="0.8"/>
<line x1="497.81" x2="497.81" y1="523.4" y2="517.4" stroke="#444" stroke-opacity="0.6" stroke-width="0.8"/>
<line x1="507.03" x2="507.03" y1="523.4" y2="517.4" stroke="#444" stroke-opacity="0.6" stroke-width="0.8"/>
<line x1="516.24" x2="516.24" y1="523.4" y2="517.4" stroke="#444" stroke-opacity="0.6" stroke-width="0.8"/>
<line x1="525.46" x2="525.46" y1="523.4" y2="517.4" stroke="#444" stroke-opacity="0.6" stroke-width="0.8"/>
<line x1="534.67" x2="534.67" y1="523.4" y2="517.4" stroke="#444" stroke-opacity="0.6" stroke-width="0.8"/>
<line x1="543.89" x2="543.89" y1="523.4" y2="517.4" stroke="#444" stroke-opacity="0.6" stroke-width="0.8"/>
<line x1="553.10" x2="553.10" y1="523.4" y2="517.4" stroke="#444" stroke-opacity="0.6" stroke-width="0.8"/>
<line x1="562.31" x2="562.31" y1="523.4" y2="517.4" stroke="#444" stroke-opacity="0.6" stroke-width="0.8"/>
<line x1="571.53" x2="571.53" y1="523.4" y2="517.4" stroke="#444" stroke-opacity="0.6" stroke-width="0.8"/>
<line x1="580.74" x2="580.74" y1="523.4" y2="517.4" stroke="#444" stroke-opacity="0.6" stroke-width="0.8"/>
<line x1="589.96" x2="589.96" y1="523.4" y2="517.4" stroke="#444" stroke-opacity="0.6" stroke-width="0.8"/>
<line x1="599.17" x2="599.17" y1="523.4" y2="517.4" stroke="#444" stroke-opacity="0.6" stroke-width="0.8"/>
<line x1="608.39" x2="608.39" y1="523.4" y2="517.4" stroke="#444" stroke-opacity="0.6" stroke-width="0.8"/>
<line x1="617.60" x2="617.60" y1="523.4" y2="517.4" stroke="#444" stroke-opacity="0.6" stroke-width="0.8"/>
<line x1="626.81" x2="626.81" y1="523.4" y2="517.4" stroke="#444" stroke-opacity="0.6" stroke-width="0.8"/>
<line x1="636.03" x2="636.03" y1="523.4" y2="517.4" stroke="#444" stroke-opacity="0.6" stroke-width="0.8"/>
<line x1="645.24" x2="645.24" y1="523.4" y2="517.4" stroke="#444" stroke-opacity="0.6" stroke-width="0.8"/>
<line x1="654.46" x2="654.46" y1="523.4" y2="517.4" stroke="#444" stroke-opacity="0.6" stroke-width="0.8"/>
<line x1="663.67" x2="663.67" y1="523.4" y2="517.4" stroke="#444" stroke-opacity="0.6" stroke-width="0.8"/>
<line x1="672.89" x2="672.89" y1="523.4" y2="517.4" stroke="#444" stroke-opacity="0.6" stroke-width="0.8"/>
<line x1="37.4" x2="43.4" y1="523.40" y2="523.40" stroke="#7a7a7a" stroke-width="0.8"/>
<text x="31.900000000000002" y="526.90" text-anchor="end" font-size="11.2" letter-spacing="0.35" font-weight="bold" fill="#404040" font-family="Liberation Sans, sans-serif">0</text>
<line x1="37.4" x2="43.4" y1="477.42" y2="477.42" stroke="#7a7a7a" stroke-width="0.8"/>
<text x="34.6" y="480.92" text-anchor="end" font-size="11.2" letter-spacing="0.35" font-weight="bold" fill="#404040" font-family="Liberation Sans, sans-serif">0.5</text>
<line x1="37.4" x2="43.4" y1="431.44" y2="431.44" stroke="#7a7a7a" stroke-width="0.8"/>
<text x="31.900000000000002" y="434.94" text-anchor="end" font-size="11.2" letter-spacing="0.35" font-weight="bold" fill="#404040" font-family="Liberation Sans, sans-serif">1</text>
<line x1="37.4" x2="43.4" y1="385.45" y2="385.45" stroke="#7a7a7a" stroke-width="0.8"/>
<text x="34.6" y="388.95" text-anchor="end" font-size="11.2" letter-spacing="0.35" font-weight="bold" fill="#404040" font-family="Liberation Sans, sans-serif">1.5</text>
<text transform="translate(50.11,527.90) rotate(-90)" text-anchor="end" font-size="8.65" font-weight="bold" fill="#404040" stroke="#404040" stroke-width="0.3" font-family="Liberation Sans, sans-serif">ERA-Interim</text>
<text transform="translate(59.33,527.90) rotate(-90)" text-anchor="end" font-size="8.65" font-weight="bold" fill="#404040" stroke="#404040" stroke-width="0.3" font-family="Liberation Sans, sans-serif">CFSR</text>
<text transform="translate(68.54,527.90) rotate(-90)" text-anchor="end" font-size="8.65" font-weight="bold" fill="#404040" stroke="#404040" stroke-width="0.3" font-family="Liberation Sans, sans-serif">NCEP2</text>
<text transform="translate(77.76,527.90) rotate(-90)" text-anchor="end" font-size="8.65" font-weight="bold" fill="#404040" stroke="#404040" stroke-width="0.3" font-family="Liberation Sans, sans-serif">20CR</text>
<text transform="translate(86.97,527.90) rotate(-90)" text-anchor="end" font-size="8.65" font-weight="bold" fill="#404040" stroke="#404040" stroke-width="0.3" font-family="Liberation Sans, sans-serif">MERRA</text>
<text transform="translate(96.19,527.90) rotate(-90)" text-anchor="end" font-size="8.65" font-weight="bold" fill="#404040" stroke="#404040" stroke-width="0.3" font-family="Liberation Sans, sans-serif">JRA55</text>
<text transform="translate(105.40,527.90) rotate(-90)" text-anchor="end" font-size="8.65" font-weight="bold" fill="#404040" stroke="#404040" stroke-width="0.3" font-family="Liberation Sans, sans-serif">CMCC-CESM</text>
<text transform="translate(114.61,527.90) rotate(-90)" text-anchor="end" font-size="8.65" font-weight="bold" fill="#404040" stroke="#404040" stroke-width="0.3" font-family="Liberation Sans, sans-serif">MIROC-ESM-CHEM</text>
<text transform="translate(123.83,527.90) rotate(-90)" text-anchor="end" font-size="8.65" font-weight="bold" fill="#404040" stroke="#404040" stroke-width="0.3" font-family="Liberation Sans, sans-serif">MIROC-ESM</text>
<text transform="translate(133.04,527.90) rotate(-90)" text-anchor="end" font-size="8.65" font-weight="bold" fill="#404040" stroke="#404040" stroke-width="0.3" font-family="Liberation Sans, sans-serif">BCC-CSM1-1-M</text>
<text transform="translate(142.26,527.90) rotate(-90)" text-anchor="end" font-size="8.65" font-weight="bold" fill="#404040" stroke="#404040" stroke-width="0.3" font-family="Liberation Sans, sans-serif">MPI-ESM-P</text>
<text transform="translate(151.47,527.90) rotate(-90)" text-anchor="end" font-size="8.65" font-weight="bold" fill="#404040" stroke="#404040" stroke-width="0.3" font-family="Liberation Sans, sans-serif">CESM1-CAM5</text>
<text transform="translate(160.69,527.90) rotate(-90)" text-anchor="end" font-size="8.65" font-weight="bold" fill="#404040" stroke="#404040" stroke-width="0.3" font-family="Liberation Sans, sans-serif">GFDL-ESM2M</text>
<text transform="translate(169.90,527.90) rotate(-90)" text-anchor="end" font-size="8.65" font-weight="bold" fill="#404040" stroke="#404040" stroke-width="0.3" font-family="Liberation Sans, sans-serif">CESM1-WACCM</text>
<text transform="translate(179.11,527.90) rotate(-90)" text-anchor="end" font-size="8.65" font-weight="bold" fill="#404040" stroke="#404040" stroke-width="0.3" font-family="Liberation Sans, sans-serif">MIROC5</text>
<text transform="translate(188.33,527.90) rotate(-90)" text-anchor="end" font-size="8.65" font-weight="bold" fill="#404040" stroke="#404040" stroke-width="0.3" font-family="Liberation Sans, sans-serif">CMCC-CMS</text>
<text transform="translate(197.54,527.90) rotate(-90)" text-anchor="end" font-size="8.65" font-weight="bold" fill="#404040" stroke="#404040" stroke-width="0.3" font-family="Liberation Sans, sans-serif">MPI-ESM-LR</text>
<text transform="translate(206.76,527.90) rotate(-90)" text-anchor="end" font-size="8.65" font-weight="bold" fill="#404040" stroke="#404040" stroke-width="0.3" font-family="Liberation Sans, sans-serif">FIO-ESM</text>
<text transform="translate(215.97,527.90) rotate(-90)" text-anchor="end" font-size="8.65" font-weight="bold" fill="#404040" stroke="#404040" stroke-width="0.3" font-family="Liberation Sans, sans-serif">GFDL-CM2p1</text>
<text transform="translate(225.19,527.90) rotate(-90)" text-anchor="end" font-size="8.65" font-weight="bold" fill="#404040" stroke="#404040" stroke-width="0.3" font-family="Liberation Sans, sans-serif">MPI-ESM-MR</text>
<text transform="translate(234.40,527.90) rotate(-90)" text-anchor="end" font-size="8.65" font-weight="bold" fill="#404040" stroke="#404040" stroke-width="0.3" font-family="Liberation Sans, sans-serif">CCSM4</text>
<text transform="translate(243.61,527.90) rotate(-90)" text-anchor="end" font-size="8.65" font-weight="bold" fill="#404040" stroke="#404040" stroke-width="0.3" font-family="Liberation Sans, sans-serif">CMCC-CM</text>
<text transform="translate(252.83,527.90) rotate(-90)" text-anchor="end" font-size="8.65" font-weight="bold" fill="#404040" stroke="#404040" stroke-width="0.3" font-family="Liberation Sans, sans-serif">CNRM-CM5-2</text>
<text transform="translate(262.04,527.90) rotate(-90)" text-anchor="end" font-size="8.65" font-weight="bold" fill="#404040" stroke="#404040" stroke-width="0.3" font-family="Liberation Sans, sans-serif">CanCM4</text>
<text transform="translate(271.26,527.90) rotate(-90)" text-anchor="end" font-size="8.65" font-weight="bold" fill="#404040" stroke="#404040" stroke-width="0.3" font-family="Liberation Sans, sans-serif">HadCM3</text>
<text transform="translate(280.47,527.90) rotate(-90)" text-anchor="end" font-size="8.65" font-weight="bold" fill="#404040" stroke="#404040" stroke-width="0.3" font-family="Liberation Sans, sans-serif">GFDL-CM3</text>
<text transform="translate(289.69,527.90) rotate(-90)" text-anchor="end" font-size="8.65" font-weight="bold" fill="#404040" stroke="#404040" stroke-width="0.3" font-family="Liberation Sans, sans-serif">CESM1-BGC</text>
<text transform="translate(298.90,527.90) rotate(-90)" text-anchor="end" font-size="8.65" font-weight="bold" fill="#404040" stroke="#404040" stroke-width="0.3" font-family="Liberation Sans, sans-serif">HadGEM2-CC</text>
<text transform="translate(308.11,527.90) rotate(-90)" text-anchor="end" font-size="8.65" font-weight="bold" fill="#404040" stroke="#404040" stroke-width="0.3" font-family="Liberation Sans, sans-serif">CNRM-CM5</text>
<text transform="translate(317.33,527.90) rotate(-90)" text-anchor="end" font-size="8.65" font-weight="bold" fill="#404040" stroke="#404040" stroke-width="0.3" font-family="Liberation Sans, sans-serif">CSIRO-Mk3-6-0</text>
<text transform="translate(326.54,527.90) rotate(-90)" text-anchor="end" font-size="8.65" font-weight="bold" fill="#404040" stroke="#404040" stroke-width="0.3" font-family="Liberation Sans, sans-serif">BCC-CSM1-1</text>
<text transform="translate(335.76,527.90) rotate(-90)" text-anchor="end" font-size="8.65" font-weight="bold" fill="#404040" stroke="#404040" stroke-width="0.3" font-family="Liberation Sans, sans-serif">HadGEM2-ES</text>
<text transform="translate(344.97,527.90) rotate(-90)" text-anchor="end" font-size="8.65" font-weight="bold" fill="#404040" stroke="#404040" stroke-width="0.3" font-family="Liberation Sans, sans-serif">CanESM2</text>
<text transform="translate(354.19,527.90) rotate(-90)" text-anchor="end" font-size="8.65" font-weight="bold" fill="#404040" stroke="#404040" stroke-width="0.3" font-family="Liberation Sans, sans-serif">FGOALS-g2</text>
<text transform="translate(363.40,527.90) rotate(-90)" text-anchor="end" font-size="8.65" font-weight="bold" fill="#404040" stroke="#404040" stroke-width="0.3" font-family="Liberation Sans, sans-serif">NorESM1-ME</text>
<text transform="translate(372.61,527.90) rotate(-90)" text-anchor="end" font-size="8.65" font-weight="bold" fill="#404040" stroke="#404040" stroke-width="0.3" font-family="Liberation Sans, sans-serif">GISS-E2-H-CC</text>
<text transform="translate(381.83,527.90) rotate(-90)" text-anchor="end" font-size="8.65" font-weight="bold" fill="#404040" stroke="#404040" stroke-width="0.3" font-family="Liberation Sans, sans-serif">CESM1-FASTCHEM</text>
<text transform="translate(391.04,527.90) rotate(-90)" text-anchor="end" font-size="8.65" font-weight="bold" fill="#404040" stroke="#404040" stroke-width="0.3" font-family="Liberation Sans, sans-serif">HadGEM2-AO</text>
<text transform="translate(400.26,527.90) rotate(-90)" text-anchor="end" font-size="8.65" font-weight="bold" fill="#404040" stroke="#404040" stroke-width="0.3" font-family="Liberation Sans, sans-serif">GFDL-ESM2G</text>
<text transform="translate(409.47,527.90) rotate(-90)" text-anchor="end" font-size="8.65" font-weight="bold" fill="#404040" stroke="#404040" stroke-width="0.3" font-family="Liberation Sans, sans-serif">IPSL-CM5A-LR</text>
<text transform="translate(418.69,527.90) rotate(-90)" text-anchor="end" font-size="8.65" font-weight="bold" fill="#404040" stroke="#404040" stroke-width="0.3" font-family="Liberation Sans, sans-serif">IPSL-CM5A-MR</text>
<text transform="translate(427.90,527.90) rotate(-90)" text-anchor="end" font-size="8.65" font-weight="bold" fill="#404040" stroke="#404040" stroke-width="0.3" font-family="Liberation Sans, sans-serif">IPSL-CM5B-LR</text>
<text transform="translate(437.11,527.90) rotate(-90)" text-anchor="end" font-size="8.65" font-weight="bold" fill="#404040" stroke="#404040" stroke-width="0.3" font-family="Liberation Sans, sans-serif">ACCESS1-0</text>
<text transform="translate(446.33,527.90) rotate(-90)" text-anchor="end" font-size="8.65" font-weight="bold" fill="#404040" stroke="#404040" stroke-width="0.3" font-family="Liberation Sans, sans-serif">NorESM1-M</text>
<text transform="translate(455.54,527.90) rotate(-90)" text-anchor="end" font-size="8.65" font-weight="bold" fill="#404040" stroke="#404040" stroke-width="0.3" font-family="Liberation Sans, sans-serif">INMCM4</text>
<text transform="translate(464.76,527.90) rotate(-90)" text-anchor="end" font-size="8.65" font-weight="bold" fill="#404040" stroke="#404040" stroke-width="0.3" font-family="Liberation Sans, sans-serif">ACCESS1-3</text>
<text transform="translate(473.97,527.90) rotate(-90)" text-anchor="end" font-size="8.65" font-weight="bold" fill="#404040" stroke="#404040" stroke-width="0.3" font-family="Liberation Sans, sans-serif">GISS-E2-H</text>
<text transform="translate(483.19,527.90) rotate(-90)" text-anchor="end" font-size="8.65" font-weight="bold" fill="#404040" stroke="#404040" stroke-width="0.3" font-family="Liberation Sans, sans-serif">MRI-ESM1</text>
<text transform="translate(492.40,527.90) rotate(-90)" text-anchor="end" font-size="8.65" font-weight="bold" fill="#404040" stroke="#404040" stroke-width="0.3" font-family="Liberation Sans, sans-serif">GISS-E2-R</text>
<text transform="translate(501.61,527.90) rotate(-90)" text-anchor="end" font-size="8.65" font-weight="bold" fill="#404040" stroke="#404040" stroke-width="0.3" font-family="Liberation Sans, sans-serif">GISS-E2-R-CC</text>
<text transform="translate(510.83,527.90) rotate(-90)" text-anchor="end" font-size="8.65" font-weight="bold" fill="#404040" stroke="#404040" stroke-width="0.3" font-family="Liberation Sans, sans-serif">MRI-CGCM3</text>
<text transform="translate(520.04,527.90) rotate(-90)" text-anchor="end" font-size="8.65" font-weight="bold" fill="#404040" stroke="#404040" stroke-width="0.3" font-family="Liberation Sans, sans-serif">E3SM-1-0</text>
<text transform="translate(529.26,527.90) rotate(-90)" text-anchor="end" font-size="8.65" font-weight="bold" fill="#404040" stroke="#404040" stroke-width="0.3" font-family="Liberation Sans, sans-serif">NorESM2-LM</text>
<text transform="translate(538.47,527.90) rotate(-90)" text-anchor="end" font-size="8.65" font-weight="bold" fill="#404040" stroke="#404040" stroke-width="0.3" font-family="Liberation Sans, sans-serif">CAMS-CSM1-0</text>
<text transform="translate(547.69,527.90) rotate(-90)" text-anchor="end" font-size="8.65" font-weight="bold" fill="#404040" stroke="#404040" stroke-width="0.3" font-family="Liberation Sans, sans-serif">SAM0-UNICON</text>
<text transform="translate(556.90,527.90) rotate(-90)" text-anchor="end" font-size="8.65" font-weight="bold" fill="#404040" stroke="#404040" stroke-width="0.3" font-family="Liberation Sans, sans-serif">IPSL-CM6A-LR</text>
<text transform="translate(566.11,527.90) rotate(-90)" text-anchor="end" font-size="8.65" font-weight="bold" fill="#404040" stroke="#404040" stroke-width="0.3" font-family="Liberation Sans, sans-serif">GISS-E2-1-G</text>
<text transform="translate(575.33,527.90) rotate(-90)" text-anchor="end" font-size="8.65" font-weight="bold" fill="#404040" stroke="#404040" stroke-width="0.3" font-family="Liberation Sans, sans-serif">CESM2-WACCM</text>
<text transform="translate(584.54,527.90) rotate(-90)" text-anchor="end" font-size="8.65" font-weight="bold" fill="#404040" stroke="#404040" stroke-width="0.3" font-family="Liberation Sans, sans-serif">MIROC6</text>
<text transform="translate(593.76,527.90) rotate(-90)" text-anchor="end" font-size="8.65" font-weight="bold" fill="#404040" stroke="#404040" stroke-width="0.3" font-family="Liberation Sans, sans-serif">GISS-E2-1-G-CC</text>
<text transform="translate(602.97,527.90) rotate(-90)" text-anchor="end" font-size="8.65" font-weight="bold" fill="#404040" stroke="#404040" stroke-width="0.3" font-family="Liberation Sans, sans-serif">CESM2</text>
<text transform="translate(612.19,527.90) rotate(-90)" text-anchor="end" font-size="8.65" font-weight="bold" fill="#404040" stroke="#404040" stroke-width="0.3" font-family="Liberation Sans, sans-serif">MRI-ESM2-0</text>
<text transform="translate(621.40,527.90) rotate(-90)" text-anchor="end" font-size="8.65" font-weight="bold" fill="#404040" stroke="#404040" stroke-width="0.3" font-family="Liberation Sans, sans-serif">NorCPM1</text>
<text transform="translate(630.61,527.90) rotate(-90)" text-anchor="end" font-size="8.65" font-weight="bold" fill="#404040" stroke="#404040" stroke-width="0.3" font-family="Liberation Sans, sans-serif">BCC-CSM2-MR</text>
<text transform="translate(639.83,527.90) rotate(-90)" text-anchor="end" font-size="8.65" font-weight="bold" fill="#404040" stroke="#404040" stroke-width="0.3" font-family="Liberation Sans, sans-serif">NESM3</text>
<text transform="translate(649.04,527.90) rotate(-90)" text-anchor="end" font-size="8.65" font-weight="bold" fill="#404040" stroke="#404040" stroke-width="0.3" font-family="Liberation Sans, sans-serif">BCC-ESM1</text>
<text transform="translate(658.26,527.90) rotate(-90)" text-anchor="end" font-size="8.65" font-weight="bold" fill="#404040" stroke="#404040" stroke-width="0.3" font-family="Liberation Sans, sans-serif">GFDL-ESM4</text>
<text transform="translate(667.47,527.90) rotate(-90)" text-anchor="end" font-size="8.65" font-weight="bold" fill="#404040" stroke="#404040" stroke-width="0.3" font-family="Liberation Sans, sans-serif">EC-Earth3-Veg</text>
<text transform="translate(676.69,527.90) rotate(-90)" text-anchor="end" font-size="8.65" font-weight="bold" fill="#404040" stroke="#404040" stroke-width="0.3" font-family="Liberation Sans, sans-serif">CanESM5</text>
<text transform="translate(65.6,16.1) scale(1.0387,1)" font-size="18.6" font-weight="bold" fill="#404040" stroke="#404040" stroke-width="0.25" font-family="Liberation Sans, sans-serif">a equatorial SOI responses in AMIP5/6</text>
<text transform="translate(65.9,354.7) scale(1.0387,1)" font-size="18.6" font-weight="bold" fill="#404040" stroke="#404040" stroke-width="0.25" font-family="Liberation Sans, sans-serif">b equatorial SOI responses in CMIP5/6</text>
<text transform="translate(10.9,95.5) rotate(-90)" text-anchor="middle" font-size="11" font-weight="bold" fill="#404040" font-family="Liberation Sans, sans-serif">(-1)*regress</text>
<text transform="translate(11.9,435.9) rotate(-90)" text-anchor="middle" font-size="11.6" font-weight="bold" fill="#404040" font-family="Liberation Sans, sans-serif">(-1)*regress</text>
<line x1="47.2" x2="108.7" y1="245.3" y2="245.3" stroke="#8B2323" stroke-width="2"/>
<text x="78.2" y="260.6" text-anchor="middle" font-size="10.7" font-weight="bold" fill="#404040" stroke="#404040" stroke-width="0.2" font-family="Liberation Sans, sans-serif">Reanalysis</text>
<line x1="124.8" x2="476.8" y1="271.8" y2="271.8" stroke="#1E8C3E" stroke-width="2"/>
<text x="294.5" y="288.6" text-anchor="middle" font-size="12.9" font-weight="bold" fill="#404040" stroke="#404040" stroke-width="0.2" font-family="Liberation Sans, sans-serif">AMIP5</text>
<line x1="486.5" x2="672.5" y1="260.5" y2="260.5" stroke="#7CCB9A" stroke-width="2"/>
<text x="608.1" y="277.7" text-anchor="middle" font-size="13" font-weight="bold" fill="#404040" stroke="#404040" stroke-width="0.2" font-family="Liberation Sans, sans-serif">AMIP6</text>
<line x1="40.7" x2="91.3" y1="585.7" y2="585.7" stroke="#8B2323" stroke-width="2"/>
<text x="70.2" y="598.9" text-anchor="middle" font-size="10.7" font-weight="bold" fill="#404040" stroke="#404040" stroke-width="0.2" font-family="Liberation Sans, sans-serif">Reanalysis</text>
<line x1="101.2" x2="507.2" y1="610.9" y2="610.9" stroke="#1F2F6B" stroke-width="2"/>
<text x="286.5" y="627.4" text-anchor="middle" font-size="13" font-weight="bold" fill="#404040" stroke="#404040" stroke-width="0.2" font-family="Liberation Sans, sans-serif">CMIP5</text>
<line x1="516.9" x2="677.1" y1="599.8" y2="599.8" stroke="#5B85C8" stroke-width="2"/>
<text x="600.6" y="615.5" text-anchor="middle" font-size="12.9" font-weight="bold" fill="#404040" stroke="#404040" stroke-width="0.2" font-family="Liberation Sans, sans-serif">CMIP6</text>
</svg>
</body></html>
